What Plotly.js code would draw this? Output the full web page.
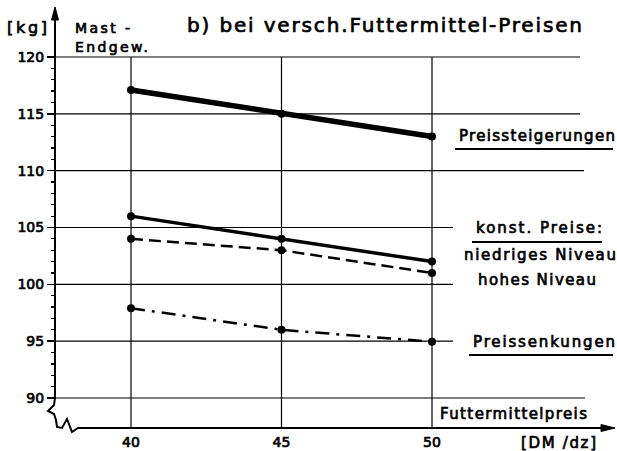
<!DOCTYPE html>
<html><head><meta charset="utf-8">
<script src="https://cdn.plot.ly/plotly-3.0.1.min.js"></script>
<style>
html,body{margin:0;padding:0;background:#fff}#c{width:617px;height:451px}
.annotation-text,.xtick text,.ytick text{stroke:#000;stroke-width:0.7px}
</style>
</head><body><div id="c"></div>
<script>
const futterpreis = [40, 45, 50];
const preissteigerungen = [117.1, 115, 113];
const konstNiedrig = [106, 104, 102];
const konstHoch = [104, 103, 101];
const preissenkungen = [97.9, 96, 94.95];
const yTicks = [90, 95, 100, 105, 110, 115, 120];
const xTickLabels = ['40', '45', '50'];

const W = 617, H = 451, L = 55, R = 0, T = 10, B = 23;
const pw = W - L - R, ph = H - T - B;
const px = p => (p - L) / pw;
const py = p => (H - B - p) / ph;
const XR = [40 - (131 - L) / 30.1, 40 + (W - 131) / 30.1];
const YR = [90 - (H - B - 398) / 11.37, 120 + (57 - T) / 11.37];
const FONT = 'DejaVu Sans';

function tr(y, w, dash) {
  return {x: futterpreis, y: y, mode: 'lines+markers', type: 'scatter',
    line: {color: '#000', width: w, dash: dash}, marker: {color: '#000', size: 8},
    hoverinfo: 'skip', cliponaxis: false};
}
const data = [
  tr(preissteigerungen, 5.5, 'solid'),
  tr(konstNiedrig, 3.5, 'solid'),
  tr(konstHoch, 2.5, '12px,6px'),
  tr(preissenkungen, 2.5, '14px,7px,3px,7px')
];

const shapes = [];
const gridEnd = {90: 585, 95: 453, 100: 453, 105: 453, 110: 584, 115: 580, 120: 580};
yTicks.forEach(v => shapes.push({type: 'line', xref: 'paper', yref: 'y', x0: px(55), x1: px(gridEnd[v]), y0: v, y1: v, line: {color: '#000', width: 1.2}, layer: 'below'}));
futterpreis.forEach(v => shapes.push({type: 'line', xref: 'x', yref: 'y', x0: v, x1: v, y0: YR[0], y1: 120, line: {color: '#000', width: 1.2}, layer: 'below'}));
function path(pts) { return pts.map((p, i) => (i ? 'L' : 'M') + px(p[0]) + ',' + py(p[1])).join(' '); }
shapes.push({type: 'path', xref: 'paper', yref: 'paper', path: path([[55, 14], [55, 398], [54, 405], [48, 411], [54, 414], [56, 420], [57, 427], [62, 428], [67, 419], [72, 432], [78, 428], [604, 428]]), line: {color: '#000', width: 2}});
shapes.push({type: 'path', xref: 'paper', yref: 'paper', path: path([[55, 7], [51.5, 20], [58.5, 20]]) + ' Z', fillcolor: '#000', line: {color: '#000', width: 1}});
shapes.push({type: 'path', xref: 'paper', yref: 'paper', path: path([[615, 428], [601, 424.5], [601, 431.5]]) + ' Z', fillcolor: '#000', line: {color: '#000', width: 1}});
[[455, 613, 149], [472, 602, 242], [469, 613, 355]].forEach(u => shapes.push({type: 'line', xref: 'paper', yref: 'paper', x0: px(u[0]), x1: px(u[1]), y0: py(u[2]), y1: py(u[2]), line: {color: '#000', width: 2.2}}));

// [text, left x, center y, font size, target width]
const labelSpecs = [
  ['[kg]', 5, 27, 16, 40],
  ['Mast -', 73, 28, 14, 55],
  ['Endgew.', 73, 47, 14, 73],
  ['b) bei versch.Futtermittel-Preisen', 185, 25, 20, 395],
  ['Preissteigerungen', 457, 136, 15, 156],
  ['konst. Preise:', 474, 228, 15, 126],
  ['niedriges Niveau', 462, 255, 15, 152],
  ['hohes Niveau', 476, 280, 15, 118],
  ['Preissenkungen', 471, 342, 15, 142],
  ['Futtermittelpreis', 438, 414, 15, 147],
  ['[DM /dz]', 519, 443, 15, 75]
];
const annotations = labelSpecs.map(s => ({text: s[0], xref: 'paper', yref: 'paper', x: px(s[1]), y: py(s[2]), xanchor: 'left', yanchor: 'middle', align: 'left', showarrow: false, font: {family: FONT, size: s[3], color: '#000'}}));

const minorTicks = [];
for (let v = 90; v <= 120; v++) if (v % 5) minorTicks.push(v);

const layout = {
  width: W, height: H, margin: {l: L, r: R, t: T, b: B},
  paper_bgcolor: '#fff', plot_bgcolor: '#fff', showlegend: false,
  font: {family: FONT, color: '#000'},
  xaxis: {range: XR, tickmode: 'array', tickvals: futterpreis, ticktext: xTickLabels, ticks: '', ticklabelstandoff: 4, showgrid: false, zeroline: false, showline: false, tickfont: {size: 14}, fixedrange: true},
  yaxis: {range: YR, tickmode: 'array', tickvals: yTicks, ticks: 'outside', ticklen: 7, tickwidth: 1.5, tickcolor: '#000', showgrid: false, zeroline: false, showline: false, tickfont: {size: 14},
    minor: {tickmode: 'array', tickvals: minorTicks, ticks: 'outside', ticklen: 3.5, tickwidth: 1.2, tickcolor: '#000', showgrid: false}, fixedrange: true},
  shapes: shapes, annotations: annotations
};
Plotly.newPlot('c', data, layout, {staticPlot: true, displayModeBar: false}).then(() => {
  const texts = document.querySelectorAll('.annotation-text');
  texts.forEach((t, i) => {
    const spec = labelSpecs[i];
    if (!spec) return;
    const w = t.getComputedTextLength();
    const n = spec[0].length;
    if (n > 1) t.style.letterSpacing = ((spec[4] - w) / (n - 1)) + 'px';
  });
});
</script></body></html>
